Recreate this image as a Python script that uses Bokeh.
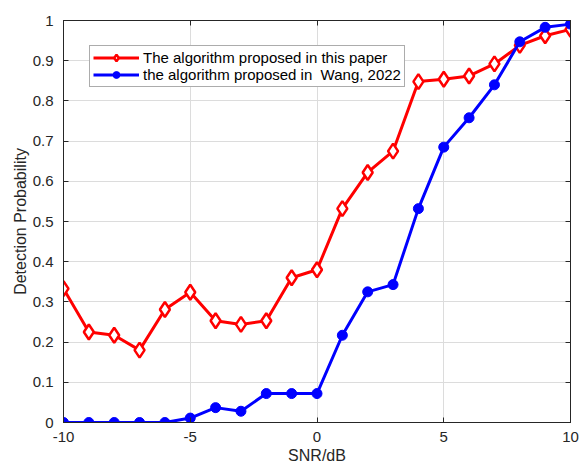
from bokeh.plotting import figure
from bokeh.models import Range1d, FixedTicker, LinearAxis, Legend, LegendItem, CustomJSTickFormatter
from bokeh.embed import file_html
from bokeh.resources import INLINE

snr = [-10, -9, -8, -7, -6, -5, -4, -3, -2, -1, 0, 1, 2, 3, 4, 5, 6, 7, 8, 9, 10]
proposed = [0.333, 0.225, 0.217, 0.180, 0.281, 0.324, 0.253, 0.244, 0.253, 0.360, 0.380,
            0.532, 0.622, 0.675, 0.848, 0.854, 0.862, 0.892, 0.938, 0.962, 0.978]
wang = [0.0, 0.0, 0.0, 0.0, 0.0, 0.011, 0.037, 0.028, 0.072, 0.072, 0.072,
        0.217, 0.325, 0.343, 0.532, 0.685, 0.758, 0.840, 0.947, 0.983, 0.991]
x_ticks = [-10, -5, 0, 5, 10]
x_tick_labels = {-10: "-10", -5: "-5", 0: "0", 5: "5", 10: "10"}
y_ticks = [0, 0.1, 0.2, 0.3, 0.4, 0.5, 0.6, 0.7, 0.8, 0.9, 1]
y_tick_labels = {0: "0", 0.1: "0.1", 0.2: "0.2", 0.3: "0.3", 0.4: "0.4", 0.5: "0.5",
                 0.6: "0.6", 0.7: "0.7", 0.8: "0.8", 0.9: "0.9", 1: "1"}
label1 = "The algorithm proposed in this paper"
label2 = "the algorithm proposed in  Wang, 2022"

FONT = "Liberation Sans"
DARK = "#262626"

p = figure(width=579, height=466, output_backend="svg", toolbar_location=None,
           x_range=Range1d(-10, 10), y_range=Range1d(0, 1),
           min_border_left=63, min_border_right=9, min_border_top=20, min_border_bottom=44)
p.background_fill_color = "white"
p.border_fill_color = "white"
p.outline_line_color = DARK
p.outline_line_width = 1

for ax in [p.xaxis[0], p.yaxis[0]]:
    ax.major_label_text_font = FONT
    ax.major_label_text_font_size = "15px"
    ax.major_label_text_color = DARK
    ax.axis_label_text_font = FONT
    ax.axis_label_text_font_size = "16px"
    ax.axis_label_text_font_style = "normal"
    ax.axis_label_text_color = DARK
    ax.axis_line_color = DARK
    ax.major_tick_in = 5
    ax.major_tick_out = 0
    ax.minor_tick_in = 0
    ax.minor_tick_out = 0
    ax.major_tick_line_color = DARK

p.xaxis[0].ticker = FixedTicker(ticks=x_ticks)
p.xaxis[0].major_label_overrides = x_tick_labels
p.yaxis[0].ticker = FixedTicker(ticks=y_ticks)
p.yaxis[0].major_label_overrides = y_tick_labels
p.xaxis[0].axis_label = "SNR/dB"
p.yaxis[0].axis_label = "Detection Probability"
p.xaxis[0].major_label_standoff = 9
p.xaxis[0].axis_label_standoff = 2
p.yaxis[0].major_label_standoff = 10
p.yaxis[0].axis_label_standoff = 1

blank = CustomJSTickFormatter(code="return ''")
top = LinearAxis(ticker=FixedTicker(ticks=x_ticks), formatter=blank,
                 major_tick_in=5, major_tick_out=0, minor_tick_in=0, minor_tick_out=0,
                 axis_line_color=DARK, major_tick_line_color=DARK, major_label_standoff=0)
right = LinearAxis(ticker=FixedTicker(ticks=y_ticks), formatter=blank,
                   major_tick_in=5, major_tick_out=0, minor_tick_in=0, minor_tick_out=0,
                   axis_line_color=DARK, major_tick_line_color=DARK, major_label_standoff=0)
p.add_layout(top, "above")
p.add_layout(right, "right")

p.xgrid.ticker = FixedTicker(ticks=x_ticks)
p.ygrid.ticker = FixedTicker(ticks=y_ticks)
p.grid.grid_line_color = "#dcdcdc"
p.grid.grid_line_width = 1

l1 = p.line(snr, proposed, line_color="red", line_width=3)
m1 = p.scatter(snr, proposed, marker="diamond", size=15, line_color="red", line_width=2.5,
               fill_color="white")
l2 = p.line(snr, wang, line_color="blue", line_width=3)
m2 = p.scatter(snr, wang, marker="circle", size=10, line_color="blue", fill_color="blue")

legend = Legend(items=[LegendItem(label=label1, renderers=[l1, m1]),
                       LegendItem(label=label2, renderers=[l2, m2])],
                location=(26, 335))
legend.label_text_font = FONT
legend.label_text_font_size = "15px"
legend.label_text_color = "black"
legend.border_line_color = "#5a5a5a"
legend.border_line_width = 1
legend.background_fill_color = "white"
legend.background_fill_alpha = 1
legend.glyph_width = 46
legend.glyph_height = 17
legend.label_height = 17
legend.spacing = 0
legend.padding = 3
legend.margin = 0
legend.label_standoff = 4
p.add_layout(legend, "center")

open("out.html", "w").write(file_html(p, INLINE))
